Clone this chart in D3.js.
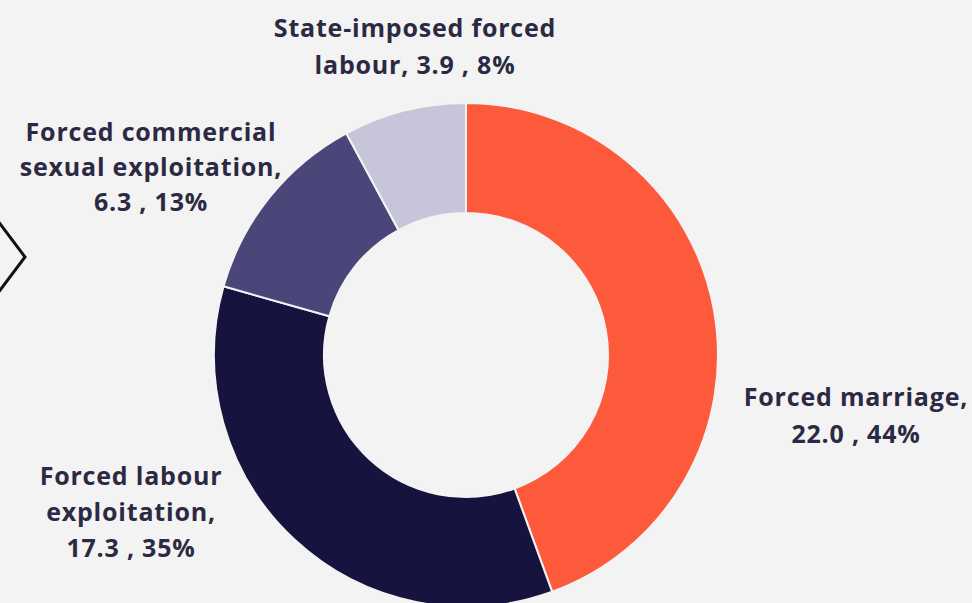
<!DOCTYPE html>
<html>
<head>
<meta charset="utf-8">
<script src="https://cdn.jsdelivr.net/npm/d3@7"></script>
<style>
  html, body { margin: 0; padding: 0; background: #f3f3f4; }
  svg { display: block; }
</style>
</head>
<body>
<svg id="chart" width="972" height="603"></svg>
<script>
// ---- data ----
const categories = ["Forced marriage", "Forced labour exploitation", "Forced commercial sexual exploitation", "State-imposed forced labour"];
const values = [22.0, 17.3, 6.3, 3.9];
const percents = ["44%", "35%", "13%", "8%"];
const labelLines = [
  ["Forced marriage,", "22.0 , 44%"],
  ["Forced labour", "exploitation,", "17.3 , 35%"],
  ["Forced commercial", "sexual exploitation,", "6.3 , 13%"],
  ["State-imposed forced", "labour, 3.9 , 8%"]
];
const colors = ["#fd5a3b", "#16143e", "#4a4679", "#c6c5d9"];

// ---- layout ----
const W = 972, H = 603;
const cx = 466, cy = 355, rOuter = 252, rInner = 142;
const labelAnchors = [ // [x, first baseline y, line height]
  [856, 406, 37],
  [131, 485, 36],
  [151, 141, 35],
  [415, 37, 37]
];

const svg = d3.select("#chart");
svg.append("rect").attr("width", W).attr("height", H).attr("fill", "#f3f3f4");

// chevron at left edge
svg.append("path")
  .attr("d", d3.line()([[-2, 221], [25, 257], [-2, 293]]))
  .attr("fill", "none").attr("stroke", "#111").attr("stroke-width", 3);

const pie = d3.pie().sort(null).value(d => d)(values);
const arc = d3.arc().innerRadius(rInner).outerRadius(rOuter);

const g = svg.append("g").attr("transform", `translate(${cx},${cy})`);
g.selectAll("path.slice").data(pie).enter().append("path")
  .attr("class", "slice")
  .attr("d", arc)
  .attr("fill", (d, i) => colors[i])
  .attr("stroke", "#f3f3f4")
  .attr("stroke-width", 2);

const labels = svg.selectAll("text.lbl").data(labelLines).enter().append("text")
  .attr("class", "lbl")
  .attr("text-anchor", "middle")
  .attr("font-family", "'Open Sans', sans-serif")
  .attr("font-weight", 700)
  .attr("font-size", 25)
  .attr("letter-spacing", 0.8)
  .attr("fill", "#2b2a42")
  .attr("transform", (d, i) => `translate(${labelAnchors[i][0]},${labelAnchors[i][1]})`);
labels.selectAll("tspan").data((d, i) => d.map(t => ({ t, lh: labelAnchors[i][2] }))).enter().append("tspan")
  .attr("x", 0).attr("y", (d, j) => j * d.lh).text(d => d.t);
</script>
</body>
</html>
